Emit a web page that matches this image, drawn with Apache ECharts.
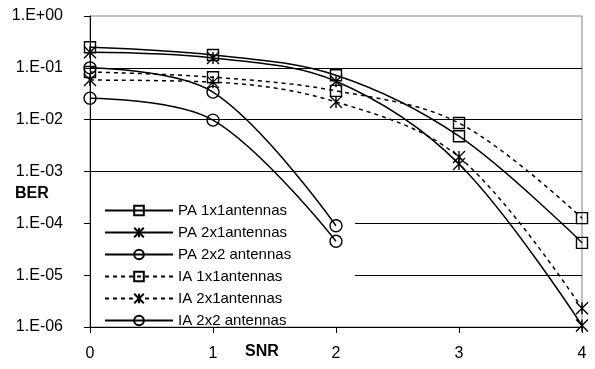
<!DOCTYPE html>
<html>
<head>
<meta charset="utf-8">
<script src="https://cdn.jsdelivr.net/npm/echarts@6/dist/echarts.min.js"></script>
<style>
  html, body { margin: 0; padding: 0; background: #fff; }
  #chart { width: 595px; height: 369px; }
</style>
</head>
<body>
<div id="chart"></div>
<script>
// SNR values on the horizontal axis
const snr = [0, 1, 2, 3, 4];

// Bit error rates per configuration
const pa1x1 = [0.25, 0.177, 0.072, 0.0048, 4.2e-5];
const pa2x1 = [0.2, 0.155, 0.055, 0.0014, 1.07e-6];
const pa2x2 = [0.1, 0.034, 9e-5];
const ia1x1 = [0.083, 0.066, 0.036, 0.0086, 1.26e-4];
const ia2x1 = [0.058, 0.053, 0.022, 0.0019, 2.3e-6];
const ia2x2 = [0.026, 0.0098, 4.5e-5];

const seriesNames = [
  'PA 1x1antennas', 'PA 2x1antennas', 'PA 2x2 antennas',
  'IA 1x1antennas', 'IA 2x1antennas', 'IA 2x2 antennas'
];

const FONT = '"Liberation Sans", Arial, sans-serif';
// asterisk marker: an X crossed by a vertical stroke
const STAR = 'path://M0,0L10,10M10,0L0,10M5,0L5,10';

function pairs(vals) {
  return vals.map((v, i) => [snr[i], v]);
}

function makeSeries(name, vals, symbol, dashed) {
  return {
    name: name,
    type: 'line',
    data: pairs(vals),
    smooth: 0.35,
    symbol: symbol,
    symbolSize: symbol === 'rect' ? 11 : 12,
    showAllSymbol: true,
    lineStyle: { color: '#000', width: 1.5, type: dashed ? [4, 4] : 'solid' },
    itemStyle: { color: 'transparent', borderColor: '#000', borderWidth: 1.4 },
    emphasis: { disabled: true },
    z: 3
  };
}

const chart = echarts.init(document.getElementById('chart'), null, { renderer: 'canvas' });

chart.setOption({
  animation: false,
  backgroundColor: '#fff',
  grid: {
    left: 90, right: 13, top: 16, bottom: 42,
    show: true, borderColor: '#808080', borderWidth: 1, backgroundColor: 'transparent'
  },
  xAxis: {
    type: 'value',
    min: 0, max: 4, interval: 1,
    axisLine: { show: true, onZero: false, lineStyle: { color: '#000', width: 1 } },
    axisTick: { show: true, inside: false, length: 6, lineStyle: { color: '#000' } },
    axisLabel: { color: '#000', fontSize: 16, fontFamily: FONT, margin: 19 },
    splitLine: { show: false }
  },
  yAxis: {
    type: 'log',
    logBase: 10,
    min: 1e-6, max: 1,
    axisLine: { show: true, lineStyle: { color: '#000', width: 1 } },
    axisTick: { show: true, inside: false, length: 6, lineStyle: { color: '#000' } },
    axisLabel: {
      color: '#000', fontSize: 16, fontFamily: FONT, margin: 27,
      formatter: function (v) {
        const e = Math.round(Math.log10(v));
        const s = Math.abs(e) < 10 ? '0' + Math.abs(e) : '' + Math.abs(e);
        return '1.E' + (e < 0 ? '-' : '+') + s;
      }
    },
    splitLine: {
      show: true, showMinLine: false, showMaxLine: false,
      lineStyle: { color: '#000', width: 1 }
    }
  },
  legend: {
    orient: 'vertical',
    left: 99, top: 198,
    itemWidth: 68, itemHeight: 12, itemGap: 7,
    data: seriesNames,
    textStyle: { color: '#000', fontSize: 15, fontFamily: FONT },
    selectedMode: false
  },
  graphic: [
    // White panel behind the legend that hides the lower gridlines
    { type: 'rect', z: 1, silent: true, shape: { x: 91, y: 197, width: 264, height: 129 },
      style: { fill: '#fff' } },
    { type: 'text', left: 15, top: 186, silent: true,
      style: { text: 'BER', fill: '#000', font: 'bold 16px ' + FONT } },
    { type: 'text', left: 245, top: 344, silent: true,
      style: { text: 'SNR', fill: '#000', font: 'bold 16px ' + FONT } }
  ],
  series: [
    makeSeries(seriesNames[0], pa1x1, 'rect', false),
    makeSeries(seriesNames[1], pa2x1, STAR, false),
    makeSeries(seriesNames[2], pa2x2, 'circle', false),
    makeSeries(seriesNames[3], ia1x1, 'rect', true),
    makeSeries(seriesNames[4], ia2x1, STAR, true),
    makeSeries(seriesNames[5], ia2x2, 'circle', false)
  ]
});
</script>
</body>
</html>
